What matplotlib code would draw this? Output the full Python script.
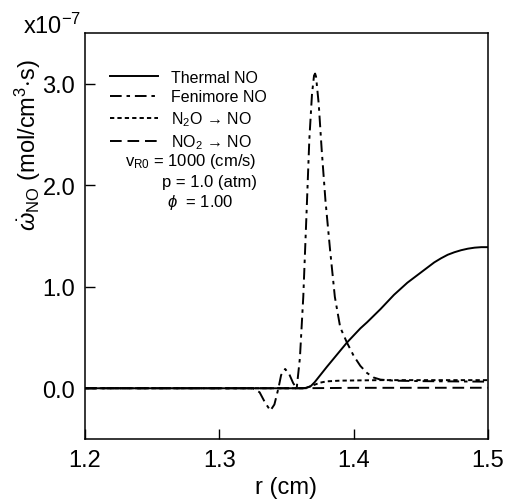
import matplotlib
matplotlib.use("Agg")
import matplotlib.pyplot as plt
from matplotlib.ticker import FormatStrFormatter

plt.rcParams['font.family'] = ['Liberation Sans', 'DejaVu Sans']
plt.rcParams['mathtext.fontset'] = 'custom'
plt.rcParams['mathtext.rm'] = 'Liberation Sans'
plt.rcParams['mathtext.it'] = 'Liberation Sans:italic'

# NO production rate, in units of 1e-7 mol/(cm^3 s), vs radius r (cm)
r_thermal = [1.20, 1.362, 1.365, 1.368, 1.371, 1.374, 1.377, 1.38, 1.385, 1.39,
             1.395, 1.40, 1.405, 1.41, 1.415, 1.42, 1.425, 1.43, 1.435, 1.44,
             1.445, 1.45, 1.455, 1.46, 1.465, 1.47, 1.475, 1.48, 1.485, 1.49,
             1.495, 1.50]
w_thermal = [0.0, 0.0, 0.005, 0.02, 0.06, 0.11, 0.16, 0.21, 0.29, 0.37,
             0.45, 0.52, 0.59, 0.65, 0.715, 0.78, 0.85, 0.92, 0.98, 1.04,
             1.09, 1.14, 1.19, 1.24, 1.28, 1.315, 1.34, 1.36, 1.375, 1.385,
             1.39, 1.39]

r_fenimore = [1.20, 1.325, 1.330, 1.334, 1.338, 1.341, 1.344, 1.346, 1.349, 1.352,
              1.355, 1.3576, 1.360, 1.3625, 1.365, 1.367, 1.369, 1.3705, 1.3713,
              1.372, 1.374, 1.3762, 1.379, 1.3824, 1.386, 1.39, 1.395, 1.40,
              1.405, 1.41, 1.415, 1.42, 1.43, 1.45, 1.50]
w_fenimore = [0.0, 0.0, -0.04, -0.14, -0.22, -0.16, 0.0, 0.13, 0.19, 0.14,
              0.05, 0.0, 0.3, 0.9, 1.75, 2.45, 2.9, 3.08, 3.10,
              3.07, 2.8, 2.35, 1.85, 1.37, 0.9, 0.6, 0.45, 0.32,
              0.22, 0.15, 0.105, 0.085, 0.075, 0.07, 0.065]

r_n2o = [1.20, 1.362, 1.366, 1.37, 1.375, 1.38, 1.39, 1.42, 1.50]
w_n2o = [0.0, 0.0, 0.01, 0.03, 0.055, 0.068, 0.075, 0.08, 0.08]

r_no2 = [1.20, 1.36, 1.40, 1.50]
w_no2 = [0.0, 0.0, 0.004, 0.005]

labels = ["Thermal NO", "Fenimore NO", "N$_2$O \u2192 NO", "NO$_2$ \u2192 NO"]
x_ticks = [1.2, 1.3, 1.4, 1.5]
y_ticks = [0.0, 1.0, 2.0, 3.0]

fig = plt.figure(figsize=(5.08, 5.02), dpi=100)
ax = fig.add_axes([0.1673, 0.1235, 0.7933, 0.8088])

lw = 1.4
ax.plot(r_thermal, w_thermal, color="black", lw=lw, ls="-", label=labels[0])
ax.plot(r_fenimore, w_fenimore, color="black", lw=lw, ls=(0, (6, 2.5, 1.8, 2.5)), label=labels[1])
ax.plot(r_n2o, w_n2o, color="black", lw=lw, ls=(0, (2.2, 1.6)), label=labels[2])
ax.plot(r_no2, w_no2, color="black", lw=lw, ls=(0, (6, 3)), label=labels[3])

ax.set_xlim(1.2, 1.5)
ax.set_ylim(-0.5, 3.5)
ax.set_xticks(x_ticks)
ax.set_yticks(y_ticks)
ax.xaxis.set_major_formatter(FormatStrFormatter("%.1f"))
ax.yaxis.set_major_formatter(FormatStrFormatter("%.1f"))
ax.tick_params(direction="in", length=7, width=1, labelsize=17, pad=7)
for s in ax.spines.values():
    s.set_linewidth(1.1)

ax.set_xlabel("r (cm)", fontsize=17, labelpad=4)
ax.set_ylabel(r"$\dot{\omega}_{\rm NO}$ (mol/cm$^3$$\cdot$s)", fontsize=17)
ax.yaxis.set_label_coords(-0.105, 0.727)
fig.text(0.045, 0.932, "x10$^{-7}$", fontsize=17, va="baseline", ha="left")

ax.legend(loc="upper left", bbox_to_anchor=(0.062, 0.91), frameon=False,
          fontsize=11.5, handlelength=3.0, handletextpad=0.8, labelspacing=0.3,
          borderaxespad=0.0, borderpad=0.0)

ax.text(0.099, 0.687, "v$_{\\rm R0}$ = 1000 (cm/s)", transform=ax.transAxes,
        fontsize=12, va="center", ha="left")
ax.text(0.191, 0.635, "p = 1.0 (atm)", transform=ax.transAxes,
        fontsize=12, va="center", ha="left")
ax.text(0.203, 0.584, "$\\phi$  = 1.00", transform=ax.transAxes,
        fontsize=12, va="center", ha="left")

fig.savefig("out.png", dpi=100)
